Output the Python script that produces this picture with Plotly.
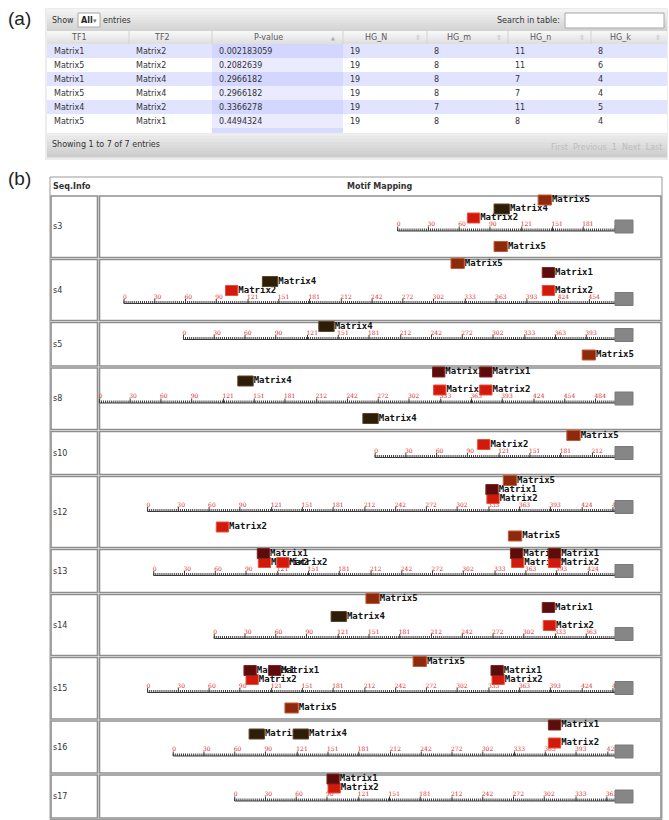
import plotly.graph_objects as go

# ---------------- data : part (a) table ----------------
col_names = ["TF1", "TF2", "P-value", "HG_N", "HG_m", "HG_n", "HG_k"]
tf1 = ["Matrix1", "Matrix5", "Matrix1", "Matrix5", "Matrix4", "Matrix5"]
tf2 = ["Matrix2", "Matrix2", "Matrix4", "Matrix4", "Matrix2", "Matrix1"]
p_values = ["0.002183059", "0.2082639", "0.2966182", "0.2966182", "0.3366278", "0.4494324"]
hg_N = [19, 19, 19, 19, 19, 19]
hg_m = [8, 8, 8, 8, 7, 8]
hg_n = [11, 11, 7, 7, 11, 8]
hg_k = [8, 6, 4, 4, 5, 4]

# ---------------- data : part (b) motif mapping ----------------
seq_names = ["s3", "s4", "s5", "s8", "s10", "s12", "s13", "s14", "s15", "s16", "s17"]
seq_lengths = [212, 479, 421, 503, 234, 456, 450, 391, 456, 431, 371]
ruler_labels = [0, 30, 60, 90, 121, 151, 181, 212, 242, 272, 302, 333, 363, 393, 424, 454, 484]

motif_seq = ["s3", "s3", "s3", "s3",
             "s4", "s4", "s4", "s4", "s4",
             "s5", "s5",
             "s8", "s8", "s8", "s8", "s8", "s8",
             "s10", "s10",
             "s12", "s12", "s12", "s12", "s12",
             "s13", "s13", "s13", "s13", "s13", "s13", "s13",
             "s14", "s14", "s14", "s14",
             "s15", "s15", "s15", "s15", "s15", "s15", "s15",
             "s16", "s16", "s16", "s16",
             "s17", "s17"]
motif_name = ["Matrix5", "Matrix4", "Matrix2", "Matrix5",
              "Matrix5", "Matrix1", "Matrix4", "Matrix2", "Matrix2",
              "Matrix4", "Matrix5",
              "Matrix1", "Matrix1", "Matrix4", "Matrix2", "Matrix2", "Matrix4",
              "Matrix5", "Matrix2",
              "Matrix5", "Matrix1", "Matrix2", "Matrix2", "Matrix5",
              "Matrix1", "Matrix1", "Matrix1", "Matrix2", "Matrix2", "Matrix2", "Matrix2",
              "Matrix5", "Matrix1", "Matrix4", "Matrix2",
              "Matrix5", "Matrix1", "Matrix1", "Matrix1", "Matrix2", "Matrix2", "Matrix5",
              "Matrix1", "Matrix4", "Matrix4", "Matrix2",
              "Matrix1", "Matrix2"]
motif_start = [137, 94, 68, 94,
               319, 408, 135, 99, 408,
               132, 389,
               325, 371, 135, 326, 371, 257,
               187, 100,
               347, 330, 331, 67, 352,
               101, 348, 385, 102, 120, 349, 385,
               148, 320, 114, 321,
               259, 94, 118, 335, 96, 336, 134,
               366, 74, 117, 366,
               90, 91]
motif_strand = ["+", "+", "+", "-",
                "+", "+", "+", "+", "+",
                "+", "-",
                "+", "+", "+", "+", "+", "-",
                "+", "+",
                "+", "+", "+", "-", "-",
                "+", "+", "+", "+", "+", "+", "+",
                "+", "+", "+", "+",
                "+", "+", "+", "+", "+", "+", "-",
                "+", "+", "+", "+",
                "+", "+"]
motif_len = {"Matrix1": 12, "Matrix2": 12, "Matrix4": 15, "Matrix5": 13}
stack_order = ["Matrix2", "Matrix4", "Matrix1", "Matrix5"]
motif_fill = {"Matrix1": "#5e0b0b", "Matrix2": "#d3180c", "Matrix4": "#2e1d07", "Matrix5": "#8e2a0c"}
motif_edge = {"Matrix1": "#7a2a22", "Matrix2": "#e8503c", "Matrix4": "#5a4526", "Matrix5": "#c65834"}

# ---------------- drawing helpers ----------------
W, H = 669, 820
SANS = "DejaVu Sans, Verdana, sans-serif"
MONO = "DejaVu Sans Mono, monospace"
shapes, annotations, traces = [], [], []


def rect(x0, y0, x1, y1, fill=None, line=None, lw=1, layer="below"):
    shapes.append(dict(type="rect", xref="x", yref="y", x0=x0, y0=y0, x1=x1, y1=y1,
                       fillcolor=fill if fill else "rgba(0,0,0,0)",
                       line=dict(color=line if line else "rgba(0,0,0,0)", width=lw if line else 0),
                       layer=layer))


def seg(x0, y0, x1, y1, color, lw=1, layer="below"):
    shapes.append(dict(type="line", xref="x", yref="y", x0=x0, y0=y0, x1=x1, y1=y1,
                       line=dict(color=color, width=lw), layer=layer))


def hex2rgb(h):
    h = h.lstrip("#")
    return [int(h[i:i + 2], 16) for i in (0, 2, 4)]


def grad(x0, y0, x1, y1, ctop, cbot, n=8):
    a, b = hex2rgb(ctop), hex2rgb(cbot)
    step = (y1 - y0) / n
    for i in range(n):
        t = i / (n - 1)
        c = "rgb(%d,%d,%d)" % tuple(round(a[k] + (b[k] - a[k]) * t) for k in range(3))
        rect(x0, y0 + i * step, x1, y0 + (i + 1) * step + 0.6, fill=c)


def txt(x, y, s, size=8, color="#333333", family=SANS, anchor="left", bold=False):
    annotations.append(dict(x=x, y=y, xref="x", yref="y", text=("<b>%s</b>" % s) if bold else s,
                            showarrow=False, xanchor=anchor, yanchor="middle",
                            font=dict(size=size, color=color, family=family)))


# ================= part (a) =================
txt(6, 18, "(a)", size=19, color="#222222", family="Liberation Sans, Arial")
TX0, TX1 = 47, 667
col_edges = [47, 129, 212, 343, 427, 508, 591, 667]
TOP, BAR_B, HEAD_B, ROW_H, FOOT_T, BOT = 9, 31, 44, 14, 133, 157

rect(TX0 - 2, TOP - 1, TX1 + 1, BOT + 3, fill="#ececec")
rect(TX0, TOP, TX1, BOT, fill="white")
grad(TX0, TOP, TX1, BAR_B, "#f3f3f3", "#d3d3d3")
txt(50, 20, "Show", size=8)
rect(78, 13, 100, 27, fill="white", line="#a8a8a8")
txt(79, 20, "All", size=8, bold=True, color="#222222")
txt(91, 21, "▾", size=7, color="#777777")
txt(101, 20, "entries", size=8)
txt(562, 20, "Search in table:", size=8, anchor="right")
rect(565, 13, 664, 28, fill="white", line="#a8a8a8")

grad(TX0, BAR_B, TX1, HEAD_B, "#f7f7f7", "#e0e0e0", n=6)
for xe in col_edges[1:-1]:
    seg(xe, BAR_B, xe, HEAD_B, "#d2d2d2")
for i, name in enumerate(col_names):
    l, r = col_edges[i], col_edges[i + 1]
    txt((l + r - 18) / 2, (BAR_B + HEAD_B) / 2, name, size=8, color="#5a5a5a", anchor="center")
    if name == "P-value":
        txt(r - 10, (BAR_B + HEAD_B) / 2, "▲", size=5, color="#aaaaaa", anchor="center")
    elif name.startswith("HG"):
        txt(r - 9, (BAR_B + HEAD_B) / 2, "⇕", size=7, color="#c4c4c4", anchor="center")

columns = [tf1, tf2, p_values, hg_N, hg_m, hg_n, hg_k]
for ri in range(len(tf1)):
    y0 = HEAD_B + ri * ROW_H
    odd = ri % 2 == 0
    rect(TX0, y0, TX1, y0 + ROW_H, fill="#e2e4ff" if odd else "white")
    rect(col_edges[2], y0, col_edges[3], y0 + ROW_H, fill="#d3d6ff" if odd else "#eaebff")
    for ci, col in enumerate(columns):
        txt(col_edges[ci] + 5, y0 + ROW_H / 2, str(col[ri]), size=8, color="#333333")
rect(col_edges[2], HEAD_B + 6 * ROW_H, col_edges[3], FOOT_T, fill="#d8dbff")

grad(TX0, FOOT_T, TX1, BOT, "#ededed", "#cdcdcd", n=8)
txt(50, 144, "Showing 1 to 7 of 7 entries", size=8)
txt(664, 147, "First  Previous  1  Next  Last", size=8, color="#bdbdbd", anchor="right")

# ================= part (b) =================
txt(6, 178, "(b)", size=19, color="#222222", family="Liberation Sans, Arial")
BX0, BX1, LCOL = 50, 662, 98
HEAD_T, HEAD_BOT = 177, 195
RULER_END = 615
PX_PER_BP = 1.025
PITCH = 9

txt(51, 186, "Seq.Info", size=8, bold=True, color="#333333")
txt(380, 186, "Motif Mapping", size=8, bold=True, color="#333333", anchor="center")


def level_of(i):
    s = motif_seq[i]
    names = sorted({motif_name[j] for j in range(len(motif_seq))
                    if motif_seq[j] == s and motif_strand[j] == motif_strand[i]},
                   key=stack_order.index)
    return names.index(motif_name[i]) + 1


tick_x, tick_y = [], []
num_x, num_y, num_t = [], [], []
lab_x, lab_y, lab_t = [], [], []
box_polys = {m: ([], []) for m in stack_order}
end_x, end_y = [], []

row_top = HEAD_BOT
for si, s in enumerate(seq_names):
    L = seq_lengths[si]
    idx = [i for i in range(len(motif_seq)) if motif_seq[i] == s]
    above = max([level_of(i) for i in idx if motif_strand[i] == "+"] + [0])
    below = max([level_of(i) for i in idx if motif_strand[i] == "-"] + [0])
    yr = row_top + PITCH * above + 9
    row_bot = yr + 18 + 9.5 * below

    def xp(bp):
        return RULER_END - (L - bp) * PX_PER_BP

    # table cells
    rect(BX0 + 1, row_top + 1, LCOL - 0.5, row_bot - 1, line="#8e8e8e", lw=1.6)
    rect(LCOL + 1.5, row_top + 1, BX1 - 1, row_bot - 1, line="#8e8e8e", lw=1.6)
    txt(51, (row_top + row_bot) / 2, s, size=8, color="#333333")

    # ruler
    tick_x += [xp(0), xp(L), None]
    tick_y += [yr, yr, None]
    for bp in range(0, L + 1, 2):
        tick_x += [xp(bp), xp(bp), None]
        tick_y += [yr, yr - 2.5, None]
    for v in ruler_labels:
        if v <= L:
            tick_x += [xp(v), xp(v), None]
            tick_y += [yr, yr - 4.5, None]
            num_x.append(xp(v) - 1)
            num_y.append(yr - 6.5)
            num_t.append(str(v))
    end_x += [RULER_END, RULER_END + 18, RULER_END + 18, RULER_END, RULER_END, None]
    end_y += [yr - 11, yr - 11, yr + 2, yr + 2, yr - 11, None]

    # motifs
    for i in sorted(idx, key=lambda j: motif_start[j]):
        lv = level_of(i)
        yc = yr - 4 - PITCH * lv if motif_strand[i] == "+" else yr + 6.5 + PITCH * lv
        x0 = xp(motif_start[i])
        x1 = xp(motif_start[i] + motif_len[motif_name[i]])
        bx, by = box_polys[motif_name[i]]
        bx += [x0, x1, x1, x0, x0, None]
        by += [yc - 5, yc - 5, yc + 5, yc + 5, yc - 5, None]
        lab_x.append(x1 + 0.5)
        lab_y.append(yc)
        lab_t.append("<b>%s</b>" % motif_name[i])
    row_top = row_bot

rect(BX0, HEAD_T, BX1, row_top + 0.5, line="#9a9a9a", lw=1)

traces.append(go.Scatter(x=tick_x, y=tick_y, mode="lines", line=dict(color="#3a3a3a", width=1),
                         hoverinfo="skip", showlegend=False))
traces.append(go.Scatter(x=num_x, y=num_y, mode="text", text=num_t, textposition="middle right",
                         textfont=dict(size=6, color="#e02c2c", family="DejaVu Serif, serif"),
                         hoverinfo="skip", showlegend=False))
traces.append(go.Scatter(x=lab_x, y=lab_y, mode="text", text=lab_t, textposition="middle right",
                         textfont=dict(size=9, color="#111111", family=MONO),
                         hoverinfo="skip", showlegend=False))
for m in stack_order:
    bx, by = box_polys[m]
    if bx:
        traces.append(go.Scatter(x=bx, y=by, mode="lines", fill="toself", fillcolor=motif_fill[m],
                                 line=dict(color=motif_edge[m], width=1),
                                 hoverinfo="skip", showlegend=False))
traces.append(go.Scatter(x=end_x, y=end_y, mode="lines", fill="toself", fillcolor="#868686",
                         line=dict(color="#7a7a7a", width=1), hoverinfo="skip", showlegend=False))

fig = go.Figure(traces)
fig.update_layout(
    width=W, height=H, autosize=False,
    margin=dict(l=0, r=0, t=0, b=0, pad=0),
    paper_bgcolor="white", plot_bgcolor="white",
    xaxis=dict(range=[0, W], visible=False, fixedrange=True),
    yaxis=dict(range=[H, 0], visible=False, fixedrange=True),
    shapes=shapes, annotations=annotations, showlegend=False,
)
fig.write_html("out.html", config={"displayModeBar": False},
               post_script="document.body.style.margin='0px';")
